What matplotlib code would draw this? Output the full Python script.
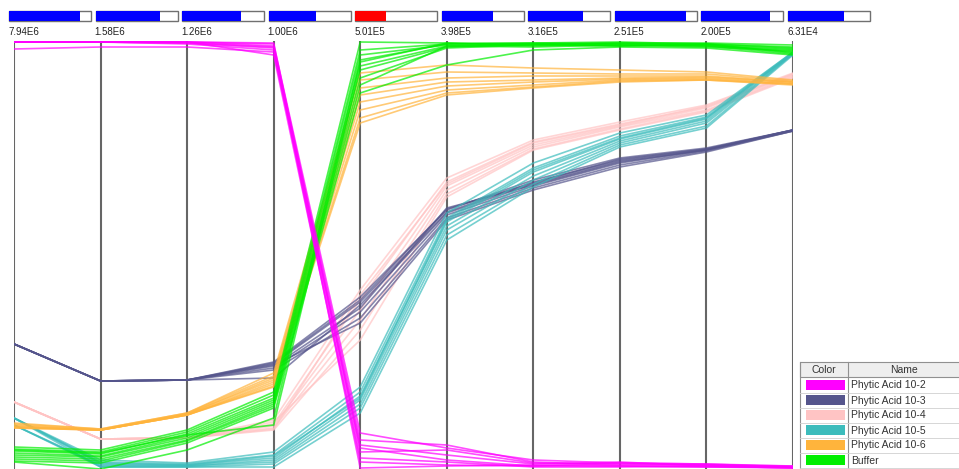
import numpy as np
import matplotlib
matplotlib.use("Agg")
import matplotlib.pyplot as plt
from matplotlib.patches import Rectangle

plt.rcParams['font.family'] = ['Liberation Sans', 'DejaVu Sans']

# axis header labels and fill fraction of the little bars above each axis
axis_labels = ["7.94E6", "1.58E6", "1.26E6", "1.00E6", "5.01E5",
               "3.98E5", "3.16E5", "2.51E5", "2.00E5", "6.31E4"]
bar_fill = [0.87, 0.78, 0.72, 0.58, 0.38, 0.63, 0.67, 0.87, 0.83, 0.68]
bar_highlight = 4

# normalised level on each axis (0 = bottom, 428 = top)
acid_10_2 = [
    [427, 427, 427, 425, 36, 21, 9, 6, 5, 3],
    [427, 427, 427, 423, 29, 24, 7, 4, 4, 2],
    [427, 427, 426, 421, 24, 14, 5, 7, 3, 1],
    [420, 422, 422, 417, 21, 9, 3, 3, 2, 2],
    [427, 427, 427, 426, 17, 19, 6, 5, 4, 3],
    [427, 427, 425, 419, 11, 7, 2, 2, 3, 1],
    [427, 427, 427, 414, 7, 4, 3, 6, 5, 2],
    [427, 427, 426, 422, 1, 3, 4, 3, 2, 1],
]
acid_10_3 = [
    [125, 88, 89, 107, 172, 259, 289, 311, 321, 339],
    [125, 88, 89, 105, 167, 257, 287, 309, 320, 339],
    [125, 88, 89, 103, 161, 261, 284, 307, 319, 339],
    [125, 88, 89, 101, 157, 254, 283, 306, 319, 338],
    [125, 88, 89, 99, 151, 251, 281, 304, 318, 338],
    [125, 88, 89, 104, 146, 249, 279, 302, 317, 338],
    [125, 88, 89, 91, 164, 256, 285, 308, 319, 339],
    [125, 88, 89, 106, 169, 260, 286, 310, 320, 339],
]
acid_10_4 = [
    [67, 30, 31, 49, 179, 291, 329, 347, 364, 396],
    [67, 30, 31, 45, 169, 287, 327, 345, 362, 395],
    [67, 30, 31, 43, 159, 283, 324, 343, 361, 394],
    [67, 30, 31, 41, 149, 279, 322, 342, 359, 393],
    [67, 30, 31, 39, 139, 275, 320, 340, 358, 392],
    [67, 30, 31, 47, 129, 272, 319, 339, 357, 391],
    [67, 30, 31, 40, 174, 285, 326, 344, 363, 395],
]
acid_10_5 = [
    [51, 9, 6, 17, 82, 256, 306, 336, 354, 417],
    [51, 7, 5, 14, 77, 251, 301, 333, 352, 417],
    [51, 6, 4, 11, 73, 247, 297, 330, 350, 416],
    [44, 4, 3, 9, 69, 243, 293, 328, 348, 416],
    [44, 3, 3, 7, 65, 239, 289, 326, 346, 415],
    [51, 2, 2, 5, 61, 234, 285, 324, 343, 415],
    [44, 2, 2, 2, 56, 229, 282, 322, 341, 414],
    [51, 5, 4, 13, 71, 249, 299, 331, 351, 416],
]
acid_10_6 = [
    [46, 40, 56, 96, 396, 404, 401, 399, 397, 389],
    [45, 40, 56, 93, 389, 397, 396, 395, 395, 388],
    [44, 39, 55, 91, 381, 391, 393, 393, 393, 387],
    [43, 39, 55, 89, 374, 387, 389, 391, 392, 387],
    [42, 39, 54, 87, 367, 383, 387, 390, 391, 386],
    [41, 39, 54, 85, 359, 379, 384, 389, 390, 385],
    [41, 39, 54, 83, 351, 376, 382, 388, 389, 385],
    [42, 39, 54, 82, 346, 374, 381, 387, 389, 384],
]
buffer = [
    [22, 19, 39, 77, 427, 426, 425, 426, 426, 424],
    [20, 17, 37, 74, 419, 425, 426, 425, 425, 422],
    [18, 15, 35, 71, 414, 424, 424, 426, 424, 420],
    [16, 13, 33, 69, 407, 426, 423, 425, 423, 419],
    [14, 12, 31, 67, 399, 422, 425, 424, 422, 418],
    [12, 10, 29, 65, 391, 421, 424, 423, 425, 416],
    [10, 8, 28, 63, 384, 423, 422, 424, 423, 415],
    [8, 6, 26, 61, 376, 404, 419, 422, 421, 414],
    [7, 0, 19, 51, 409, 425, 426, 427, 425, 421],
    [19, 16, 34, 44, 403, 423, 425, 423, 424, 417],
]

names = ["Phytic Acid 10-2", "Phytic Acid 10-3", "Phytic Acid 10-4",
         "Phytic Acid 10-5", "Phytic Acid 10-6", "Buffer"]
colors = ["#ff00ff", "#55558c", "#ffc4c4", "#3cbcbc", "#ffb43c", "#00ee00"]
groups = [acid_10_2, acid_10_3, acid_10_4, acid_10_5, acid_10_6, buffer]

W, H = 959, 469
fig = plt.figure(figsize=(W / 100, H / 100), dpi=100)

ax = fig.add_axes([14 / W, 0, (793 - 14) / W, 428 / H])
ax.set_xlim(0, len(axis_labels) - 1)
ax.set_ylim(0, 428)
ax.axis("off")

xs = np.arange(len(axis_labels))
for i in xs:
    ax.axvline(i, color="#666666", lw=1.5, zorder=1)

# drawing order: pink, slate, teal, orange, green, magenta on top
order = [2, 1, 3, 4, 5, 0]
for k in order:
    for line in groups[k]:
        ax.plot(xs, line, color=colors[k], lw=1.2, alpha=0.7, zorder=2,
                solid_joinstyle="round")

# overlay for header bars and the legend table
ov = fig.add_axes([0, 0, 1, 1])
ov.set_xlim(0, W)
ov.set_ylim(H, 0)
ov.axis("off")
ov.patch.set_alpha(0)

step = (793 - 14) / (len(axis_labels) - 1)
for i, (lab, f) in enumerate(zip(axis_labels, bar_fill)):
    x0 = 14 + i * step - 5
    bw = 82
    fc = "#ff0000" if i == bar_highlight else "#0000ff"
    ov.add_patch(Rectangle((x0, 11), bw, 10, facecolor="white",
                           edgecolor="#707070", lw=1))
    ov.add_patch(Rectangle((x0, 11), bw * f, 10, facecolor=fc,
                           edgecolor="none"))
    ov.text(x0 - 1, 32, lab, fontsize=7, ha="left", va="center",
            color="#222222")

# legend table
tx0, tx1, cdiv = 800, 960, 848
ty0, rh = 362, 15
ov.add_patch(Rectangle((tx0, ty0), tx1 - tx0, 15, facecolor="#eeeeee",
                       edgecolor="#909090", lw=0.8))
ov.plot([cdiv, cdiv], [ty0, H], color="#909090", lw=0.8)
ov.plot([tx0, tx0], [ty0, H], color="#909090", lw=0.8)
ov.text((tx0 + cdiv) / 2, ty0 + 8, "Color", fontsize=7.5, ha="center",
        va="center", color="#333333")
ov.text((cdiv + tx1) / 2, ty0 + 8, "Name", fontsize=7.5, ha="center",
        va="center", color="#333333")
for r, (nm, c) in enumerate(zip(names, colors)):
    yc = ty0 + 15 + r * rh + rh / 2 + 1
    ov.plot([tx0, tx1], [ty0 + 15 + (r + 1) * rh + 1] * 2, color="#d0d0d0",
            lw=0.6)
    ov.add_patch(Rectangle((806, yc - 5), 39, 10, facecolor=c,
                           edgecolor="none"))
    ov.text(cdiv + 3, yc, nm, fontsize=7.5, ha="left", va="center",
            color="#333333")

fig.savefig("out.png", dpi=100)
